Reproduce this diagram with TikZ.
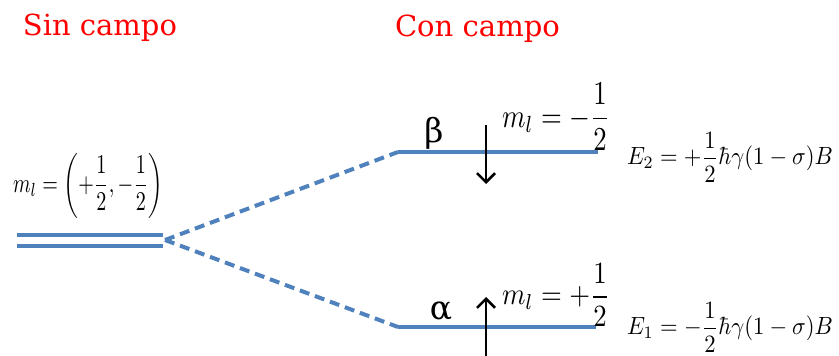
\documentclass[tikz,border=0pt]{standalone}
\usepackage{graphicx}
\usepackage{fontspec}
\newfontfamily\titlefont{DejaVu Serif}
\usetikzlibrary{arrows.meta}
\definecolor{lvlblue}{HTML}{4F81BD}
\begin{document}
\begin{tikzpicture}[x=1pt,y=-1pt,
  level/.style={line width=4pt, draw=lvlblue},
  split/.style={line width=4pt, draw=lvlblue, dash pattern=on 10pt off 6pt},
  spin/.style={line width=2.6pt, -{Straight Barb[length=9pt,width=18pt,line width=2.6pt]}},
  lbl/.style={inner sep=0pt, outer sep=0pt},
  mathlbl/.style={lbl, anchor=north west},
  title/.style={lbl, text=red, font=\titlefont\fontsize{30}{36}\selectfont, anchor=base west},
  greek/.style={lbl, font=\titlefont\fontsize{33}{36}\selectfont}]
\useasboundingbox (0,0) rectangle (839,356);

% titles
\node[title] (sin) at (23,35) {\resizebox{154pt}{!}{Sin campo}};
\node[title] (con) at (395,36) {\resizebox{165pt}{!}{Con campo}};

% level end points
\coordinate (degAl) at (17,235);
\coordinate (degAr) at (163,235);
\coordinate (degBl) at (17,246);
\coordinate (degBr) at (163,246);
\coordinate (fork) at (165,240);
\coordinate (betaL) at (398,152);
\coordinate (betaR) at (598,152);
\coordinate (alphaL) at (398,327);
\coordinate (alphaR) at (596,327);

\draw[level] (degAl) -- (degAr);
\draw[level] (degBl) -- (degBr);
\draw[split] (fork) -- (betaL);
\draw[split] (fork) -- (alphaL);
\draw[level] (betaL) -- (betaR);
\draw[level] (alphaL) -- (alphaR);

% spin arrows
\coordinate (dnT) at (486,125);
\coordinate (dnB) at (486,184);
\coordinate (upB) at (486,356);
\coordinate (upT) at (486,297);
\draw[spin] (dnT) -- (dnB);
\draw[spin] (upB) -- (upT);

% greek labels
\node[greek] (beta) at (434,133) {β};
\node[greek] (alpha) at (441,311) {α};

% math labels
\node[mathlbl] (mdeg) at (13,153)
  {\resizebox*{150pt}{65pt}{$\displaystyle m_l=\left(+\frac{1}{2},-\frac{1}{2}\right)$}};
\node[mathlbl] (mbeta) at (502,83)
  {\resizebox*{108pt}{67pt}{$\displaystyle m_l=-\frac{1}{2}$}};
\node[mathlbl] (malpha) at (502,264)
  {\resizebox*{108pt}{62pt}{$\displaystyle m_l=+\frac{1}{2}$}};
\node[mathlbl] (etwo) at (627,132)
  {\resizebox*{206pt}{50pt}{$\displaystyle E_2=+\frac{1}{2}\hbar\gamma(1-\sigma)B$}};
\node[mathlbl] (eone) at (627,302)
  {\resizebox*{206pt}{50pt}{$\displaystyle E_1=-\frac{1}{2}\hbar\gamma(1-\sigma)B$}};
\end{tikzpicture}
\end{document}
